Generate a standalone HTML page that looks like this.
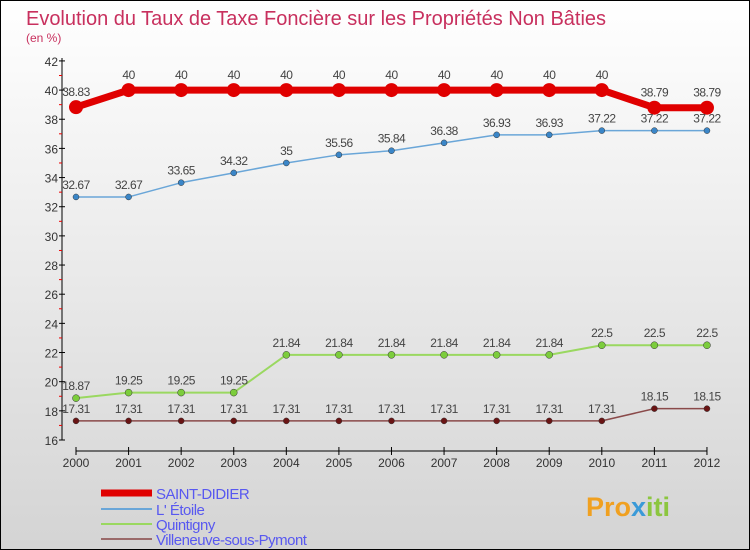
<!DOCTYPE html>
<html><head><meta charset="utf-8"><style>
body{margin:0}
#c{width:750px;height:550px;position:relative;box-sizing:border-box;border:1px solid #000;background:linear-gradient(#fff,#d4d4d4);font-family:"Liberation Sans",sans-serif;overflow:hidden}
</style></head><body>
<div id="c">
<svg width="750" height="550" style="position:absolute;left:0;top:0" id="s">
<text x="25" y="24" font-size="20" fill="#c8305e" textLength="580">Evolution du Taux de Taxe Foncière sur les Propriétés Non Bâties</text>
<text x="25" y="41" font-size="12" fill="#c8305e">(en %)</text>
<g id="axes"></g><g id="series"></g><g id="legend"></g>
<text x="585" y="515" font-size="27" font-weight="bold" fill="#f0a020">Pro<tspan fill="#3a9ad8">x</tspan><tspan fill="#8cc63f">iti</tspan></text>
</svg>
</div>
<script>
const years=[2000,2001,2002,2003,2004,2005,2006,2007,2008,2009,2010,2011,2012];
const yTicks=[16,18,20,22,24,26,28,30,32,34,36,38,40,42];
const saintDidier=[38.83,40,40,40,40,40,40,40,40,40,40,38.79,38.79];
const etoile=[32.67,32.67,33.65,34.32,35,35.56,35.84,36.38,36.93,36.93,37.22,37.22,37.22];
const quintigny=[18.87,19.25,19.25,19.25,21.84,21.84,21.84,21.84,21.84,21.84,22.5,22.5,22.5];
const villeneuve=[17.31,17.31,17.31,17.31,17.31,17.31,17.31,17.31,17.31,17.31,17.31,18.15,18.15];
const seriesNames=["SAINT-DIDIER","L' Étoile","Quintigny","Villeneuve-sous-Pymont"];
const NS="http://www.w3.org/2000/svg";
const xS=i=>75+i*52.58;
const yS=v=>439-(v-16)*14.58;
function mk(tag,attrs,parent,txt){const e=document.createElementNS(NS,tag);for(const k in attrs)e.setAttribute(k,attrs[k]);if(txt!==undefined)e.textContent=txt;parent.appendChild(e);return e;}
const ax=document.getElementById('axes');
let e=mk('line',{x1:61,y1:57,x2:61,y2:439,stroke:'#000'},ax);


e=mk('line',{x1:75,y1:450,x2:706,y2:450,stroke:'#000'},ax);


yTicks.forEach(v=>{const y=yS(v);mk('line',{x1:58,y1:y,x2:64,y2:y,stroke:'#000'},ax);
 e=mk('text',{x:57,y:y+5,'font-size':12,fill:'#333','text-anchor':'end'},ax,v);
 
 
 if(v<42)mk('line',{x1:58,y1:yS(v+1),x2:61,y2:yS(v+1),stroke:'#e00'},ax);});
years.forEach((yr,i)=>{const x=xS(i);mk('line',{x1:x,y1:446,x2:x,y2:454,stroke:'#000'},ax);
 e=mk('text',{x:x,y:466,'font-size':12,fill:'#333','text-anchor':'middle'},ax,yr);
 
 });
const sg=document.getElementById('series');
const defs=[[saintDidier,'#e00000',7,7,'#e00000'],[etoile,'#6aa6d8',1.5,3,'#3a86c8'],[quintigny,'#9ad860',2,3.5,'#7ccd3c'],[villeneuve,'#8a4a4a',1.5,3,'#6a1414']];
defs.forEach((d,si)=>{const [vals,col,w,r,pc]=d;
 const g=mk('g',{},sg);
 
 
 const l=mk('polyline',{points:vals.map((v,i)=>xS(i)+','+yS(v)).join(' '),fill:'none',stroke:col,'stroke-width':w,'stroke-linejoin':'round'},g);
 
 
 vals.forEach((v,i)=>{const c=mk('circle',{cx:xS(i),cy:yS(v),r:r,fill:pc,stroke:si==0?'none':'#333','stroke-width':0.5},g);
  
  
  const t=mk('text',{x:xS(i),y:yS(v)-(si==0?11:8),'font-size':12,fill:'#444','text-anchor':'middle','letter-spacing':'-0.5'},g,String(v));
  
  });
});
const lg=document.getElementById('legend');
const lcol=['#e00000','#6aa6d8','#9ad860','#9a6a6a'],lw=[7,2,2,2],ly=[492,508,523,538];
seriesNames.forEach((n,i)=>{const g=mk('g',{},lg);
 
 
 mk('line',{x1:100,y1:ly[i],x2:151,y2:ly[i],stroke:lcol[i],'stroke-width':lw[i]},g);
 mk('text',{x:155,y:ly[i]+6,'font-size':15,fill:'#5858f0','letter-spacing':'-0.5'},g,n);});
</script>
</body></html>
